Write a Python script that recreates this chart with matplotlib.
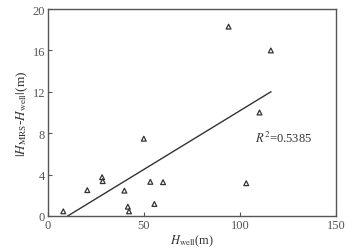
import matplotlib
matplotlib.use("Agg")
import matplotlib.pyplot as plt

plt.rcParams['font.family'] = ['Liberation Serif', 'DejaVu Serif']
plt.rcParams['mathtext.fontset'] = 'stix'

h_well = [8.1, 20.6, 28.3, 28.6, 39.9, 41.7, 42.3, 50.0, 53.4, 55.5, 60.0, 94.1, 103.3, 110.2, 116.1]
diff = [0.45, 2.5, 3.75, 3.37, 2.45, 0.9, 0.45, 7.47, 3.3, 1.16, 3.27, 18.3, 3.17, 10.0, 16.0]
fit_x = [10.4, 116.1]
fit_y = [0.0, 12.0]
xticks = [0, 50, 100, 150]
yticks = [0, 4, 8, 12, 16, 20]
r2_text = r'$R^2$=0.5385'

gray = '#555555'
fig = plt.figure(figsize=(3.55, 2.51), dpi=100)
ax = fig.add_axes([0.1344, 0.1355, 0.9465 - 0.1344, 0.960 - 0.1355])
ax.plot(fit_x, fit_y, color='#333333', lw=1.0)
ax.scatter(h_well, diff, marker='^', s=12, facecolors='none', edgecolors='#333333', linewidths=0.9, zorder=3)
ax.set_xlim(0, 150)
ax.set_ylim(0, 20)
ax.set_xticks(xticks)
ax.set_yticks(yticks)
ax.tick_params(direction='in', length=3, width=0.8, colors=gray, labelsize=9, pad=2)
for s in ax.spines.values():
    s.set_color(gray)
    s.set_linewidth(1.0)
ax.set_xlabel(r'$H_{\mathrm{well}}$(m)', fontsize=9, color='#333333', labelpad=1)
ax.set_ylabel(r'$|H_{\mathrm{MRS}}$-$H_{\mathrm{well}}|$(m)', fontsize=9.5, color='#333333', labelpad=2)
ax.text(108, 7.56, r2_text, fontsize=9, color='#333333', va='center', ha='left')
fig.savefig('out.png', dpi=100)
